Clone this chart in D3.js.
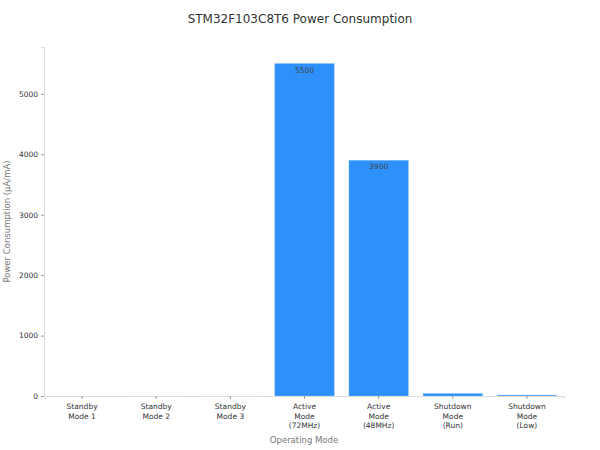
<!DOCTYPE html>
<html>
<head>
<meta charset="utf-8">
<script src="https://cdn.jsdelivr.net/npm/d3@7"></script>
<style>
  body { margin: 0; background: #fff; }
  text { font-family: "DejaVu Sans", sans-serif; }
</style>
</head>
<body>
<div class="canvas"></div>
<script>
// chart data
const modes = [
  ["Standby", "Mode 1"],
  ["Standby", "Mode 2"],
  ["Standby", "Mode 3"],
  ["Active", "Mode", "(72MHz)"],
  ["Active", "Mode", "(48MHz)"],
  ["Shutdown", "Mode", "(Run)"],
  ["Shutdown", "Mode", "(Low)"]
];
const power = [2, 3, 5, 5500, 3900, 40, 15];
const labelled = [5500, 3900];
const yTicks = [0, 1000, 2000, 3000, 4000, 5000];

const width = 600, height = 450;
const margin = { top: 47, right: 36, bottom: 54, left: 44 };

const svg = d3.select(".canvas").append("svg")
  .attr("width", width).attr("height", height);

const keys = modes.map((d, i) => i);

const x = d3.scaleBand()
  .domain(keys)
  .range([margin.left + 1, width - margin.right])
  .paddingInner(0.2)
  .paddingOuter(0.1);

const y = d3.scaleLinear()
  .domain([0, d3.max(power) * 1.05])
  .range([height - margin.bottom, margin.top]);

// title
svg.append("text")
  .attr("x", 300).attr("y", 23)
  .attr("text-anchor", "middle")
  .attr("font-size", 12)
  .attr("fill", "#333")
  .text("STM32F103C8T6 Power Consumption");

// bars
svg.selectAll("rect.bar")
  .data(power)
  .enter()
  .append("rect")
  .attr("class", "bar")
  .attr("x", (d, i) => x(i))
  .attr("y", d => y(d))
  .attr("width", x.bandwidth())
  .attr("height", d => y(0) - y(d))
  .attr("fill", "#2e90fa")
  .attr("fill-opacity", d => d < 10 ? 0.15 : 1)
  .attr("stroke", d => d < 10 ? "none" : "#7ab6f7")
  .attr("stroke-width", 0.5);

// value labels inside big bars
svg.selectAll("text.val")
  .data(power.map((d, i) => ({ d, i })).filter(o => labelled.includes(o.d)))
  .enter()
  .append("text")
  .attr("class", "val")
  .attr("x", o => x(o.i) + x.bandwidth() / 2)
  .attr("y", o => y(o.d) + 9)
  .attr("text-anchor", "middle")
  .attr("font-size", 7.5)
  .attr("fill", "#444")
  .text(o => o.d);

// y axis
const yAxis = svg.append("g")
  .attr("transform", `translate(${margin.left},0)`)
  .call(d3.axisLeft(y).tickValues(yTicks).tickFormat(d3.format("d")).tickSize(3).tickPadding(3));
yAxis.select(".domain").attr("stroke", "#ddd");
yAxis.selectAll(".tick line").attr("stroke", "#999");
yAxis.selectAll(".tick text").attr("font-size", 7.5).attr("fill", "#333")
  .attr("font-family", "DejaVu Sans");

// x axis
const xAxis = svg.append("g")
  .attr("transform", `translate(0,${height - margin.bottom})`)
  .call(d3.axisBottom(x).tickSize(3).tickPadding(4).tickFormat(""));
xAxis.select(".domain").attr("stroke", "#ddd");
xAxis.selectAll(".tick line").attr("stroke", "#999");

xAxis.selectAll(".tick").each(function(i) {
  const t = d3.select(this).append("text")
    .attr("y", 13)
    .attr("text-anchor", "middle")
    .attr("font-size", 7.5)
    .attr("fill", "#333");
  modes[i].forEach((line, k) => {
    t.append("tspan").attr("x", 0).attr("dy", k === 0 ? 0 : 9.5).text(line);
  });
});

// axis titles
svg.append("text")
  .attr("x", (margin.left + width - margin.right) / 2)
  .attr("y", 443)
  .attr("text-anchor", "middle")
  .attr("font-size", 8.5)
  .attr("fill", "#777")
  .text("Operating Mode");

svg.append("text")
  .attr("transform", `translate(10,${(margin.top + height - margin.bottom) / 2}) rotate(-90)`)
  .attr("text-anchor", "middle")
  .attr("font-size", 8.5)
  .attr("fill", "#777")
  .text("Power Consumption (µA/mA)");
</script>
</body>
</html>
